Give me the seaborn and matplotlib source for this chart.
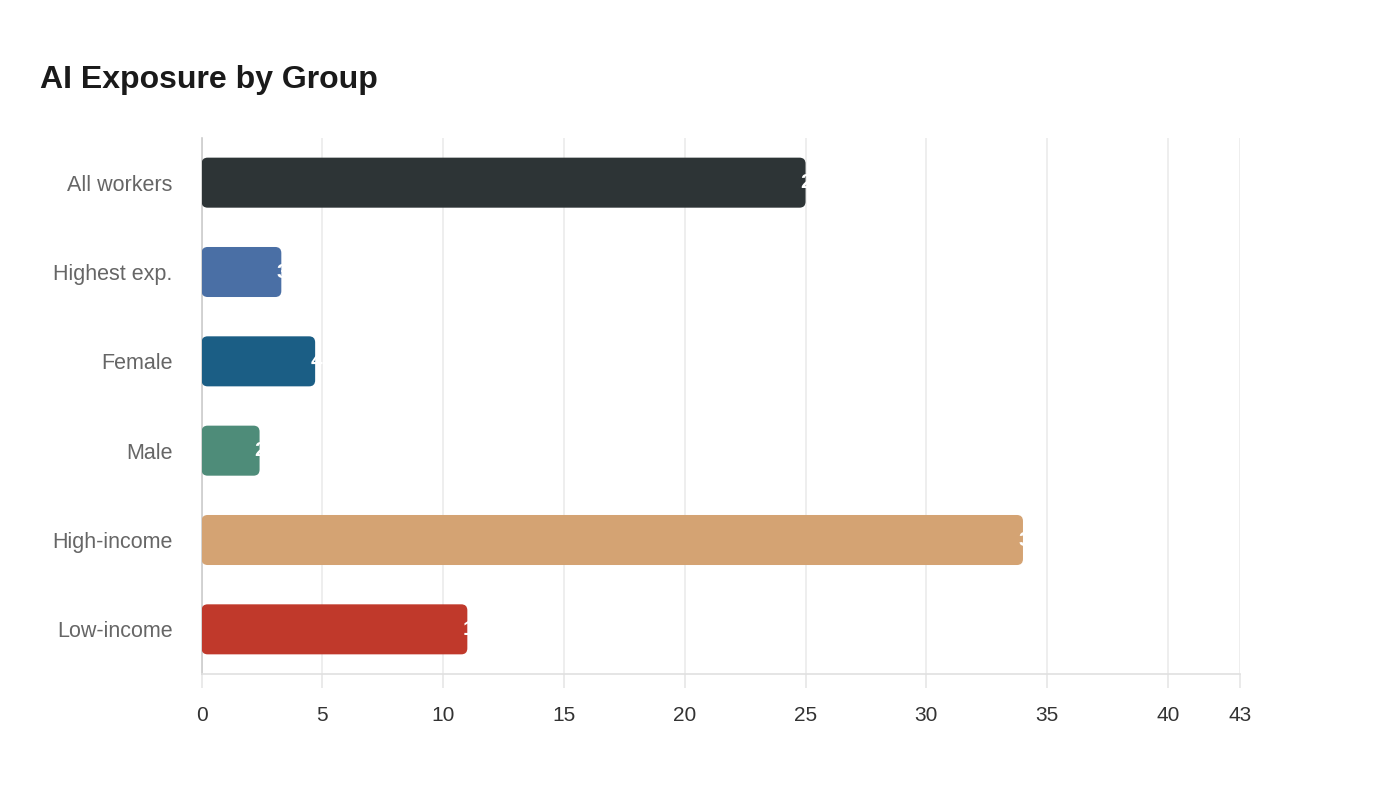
import matplotlib
matplotlib.use("Agg")
from matplotlib import pyplot as plt
from matplotlib.patches import FancyBboxPatch
import pandas as pd
import seaborn as sns

groups = ["All workers", "Highest exp.", "Female", "Male", "High-income", "Low-income"]
exposure = [25, 3.3, 4.7, 2.4, 34, 11]
bar_colors = ["#2d3436", "#4a6fa5", "#1b5e85", "#4e8c79", "#d4a373", "#c0392b"]
x_ticks = [0, 5, 10, 15, 20, 25, 30, 35, 40, 43]

df = pd.DataFrame({"group": groups, "exposure": exposure})

sns.set_theme(style="white")
plt.rcParams["font.family"] = ["Liberation Sans", "DejaVu Sans"]

fig = plt.figure(figsize=(14, 8), dpi=100)
ax = fig.add_axes([0.144, 0.1575, 0.742, 0.67])

sns.barplot(data=df, x="exposure", y="group", hue="group", palette=bar_colors,
            width=0.56, legend=False, ax=ax, saturation=1)

# swap the plain rectangles for rounded ones
aspect = (1 / 89) / (1 / 24.14)
for patch in list(ax.patches):
    x0, y0 = patch.get_x(), patch.get_y()
    w, h = patch.get_width(), patch.get_height()
    rounded = FancyBboxPatch((x0, y0), w, h,
                             boxstyle="round,pad=0,rounding_size=0.25",
                             mutation_aspect=aspect,
                             facecolor=patch.get_facecolor(), edgecolor="none", zorder=3)
    patch.remove()
    ax.add_patch(rounded)

# value labels in white starting at the bar end (only the bit over the bar shows)
for i, v in enumerate(exposure):
    ax.text(v - 0.2, i, f"{v:g}", color="white", fontsize=15, fontweight="bold",
            ha="left", va="center", zorder=4)

ax.set_xlim(0, 43)
ax.set_ylim(5.5, -0.5)
ax.set_xticks(x_ticks)
ax.set_xticklabels([str(t) for t in x_ticks])
ax.set_xlabel("")
ax.set_ylabel("")

ax.grid(axis="x", color="#ebebeb", linewidth=1.2, zorder=0)
ax.set_axisbelow(True)
for side in ["top", "right"]:
    ax.spines[side].set_visible(False)
ax.spines["left"].set_color("#cccccc")
ax.spines["left"].set_linewidth(1.2)
ax.spines["bottom"].set_color("#e0e0e0")
ax.spines["bottom"].set_linewidth(1.2)

ax.tick_params(axis="x", bottom=True, length=10, width=1.2, color="#e6e6e6",
               labelsize=15, labelcolor="#333333", pad=13)
ax.tick_params(axis="y", left=False, labelsize=15.5, labelcolor="#666666", pad=15)

fig.text(0.0286, 0.9, "AI Exposure by Group", fontsize=23, fontweight="bold",
         color="#1a1a1a", ha="left", va="center")

fig.savefig("out.png", dpi=100, facecolor="white")
